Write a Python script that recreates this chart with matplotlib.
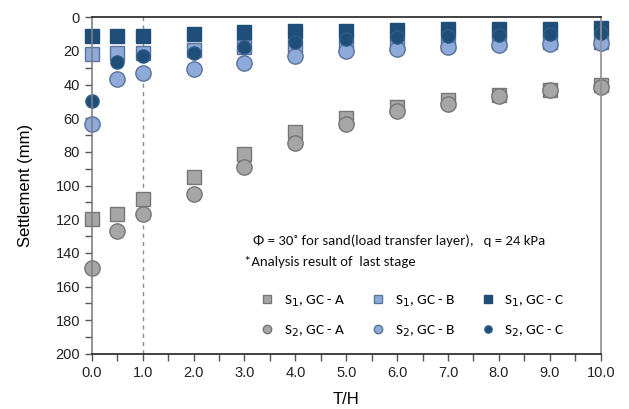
import numpy as np
import matplotlib
matplotlib.use('Agg')
import matplotlib.pyplot as plt
from matplotlib.ticker import MultipleLocator

# T/H ratio
th = [0.0, 0.5, 1.0, 2.0, 3.0, 4.0, 5.0, 6.0, 7.0, 8.0, 9.0, 10.0]

# settlement (mm)
s1_gca = [120, 117, 108, 95, 81, 68, 60, 53.5, 49, 46, 43, 40.5]
s1_gcb = [22, 21.5, 21, 19.5, 18, 17, 17, 16, 16, 15, 15, 14.5]
s1_gcc = [11, 11, 11, 10, 9, 8.5, 8, 7.5, 7, 7, 7, 6.5]
s2_gca = [149, 127, 117, 105, 89, 75, 63.5, 56, 51.5, 47, 43.5, 41.5]
s2_gcb = [63.5, 37, 33, 31, 27, 23, 20, 19, 17.5, 16.5, 16, 15.5]
s2_gcc = [50, 26.5, 23, 21, 18, 14.5, 13, 12, 11.3, 10.3, 9.7, 9.3]

gray, gray_e = '#A6A6A6', '#767676'
lblue, lblue_e = '#8EAADB', '#5A7399'
dblue = '#1F4E79'

plt.rcParams['font.family'] = ['Liberation Sans', 'DejaVu Sans']

fig = plt.figure(figsize=(6.29, 4.09), dpi=100)
ax = fig.add_axes([0.146, 0.1345, 0.809, 0.8235])

ms_sq, ms_ci = 10.5, 11
kw = dict(ls='none', mew=1, clip_on=False)
p1a, = ax.plot(th, s1_gca, 's', ms=ms_sq, mfc=gray, mec=gray_e, label='S$_1$, GC - A', **kw)
p1b, = ax.plot(th, s1_gcb, 's', ms=ms_sq, mfc=lblue, mec=lblue_e, label='S$_1$, GC - B', **kw)
p1c, = ax.plot(th, s1_gcc, 's', ms=ms_sq, mfc=dblue, mec=dblue, label='S$_1$, GC - C', **kw)
p2a, = ax.plot(th, s2_gca, 'o', ms=ms_ci, mfc=gray, mec=gray_e, label='S$_2$, GC - A', **kw)
p2b, = ax.plot(th, s2_gcb, 'o', ms=ms_ci, mfc=lblue, mec=lblue_e, label='S$_2$, GC - B', **kw)
p2c, = ax.plot(th, s2_gcc, 'o', ms=9.5, mfc=dblue, mec='#2E5C8A', label='S$_2$, GC - C', **kw)

ax.axvline(1.0, color='#7F8FA0', ls=(0, (3, 3)), lw=1, zorder=0)

ax.set_xlim(0, 10)
ax.set_ylim(200, 0)
ax.xaxis.set_major_locator(MultipleLocator(1))
ax.xaxis.set_minor_locator(MultipleLocator(0.5))
ax.yaxis.set_major_locator(MultipleLocator(20))
ax.yaxis.set_minor_locator(MultipleLocator(10))
ax.xaxis.set_major_formatter(plt.FuncFormatter(lambda v, p: f'{v:.1f}'))
ax.tick_params(which='both', direction='out', length=5, width=1, color='#555555',
               labelsize=10.5, labelcolor='#222222')

for side, c in [('top', '#222222'), ('bottom', '#222222'), ('left', '#808080'), ('right', '#909090')]:
    ax.spines[side].set_color(c)
    ax.spines[side].set_linewidth(1.2)

ax.set_xlabel('T/H', fontsize=12, labelpad=9)
ax.set_ylabel('Settlement (mm)', fontsize=12, labelpad=16)

txt = dict(family=['Carlito', 'Lato', 'DejaVu Sans'], fontsize=10.6, color='#111111')
ax.text(3.17, 135, 'Φ = 30˚ for sand(load transfer layer),   q = 24 kPa', **txt)
ax.text(3.0, 147.5, '*Analysis result of  last stage', **txt)

# column-major fill: order so that rows read S1 / S2
handles = [p1a, p2a, p1b, p2b, p1c, p2c]
leg = ax.legend(handles, [h.get_label() for h in handles], ncol=3, loc='upper left',
                bbox_to_anchor=(0.30, 0.222), frameon=False, markerscale=0.55,
                handlelength=1.2, handletextpad=0.5, columnspacing=1.5, labelspacing=0.95,
                prop={'family': ['Carlito', 'Lato', 'DejaVu Sans'], 'size': 11})

fig.savefig('out.png', dpi=100)
